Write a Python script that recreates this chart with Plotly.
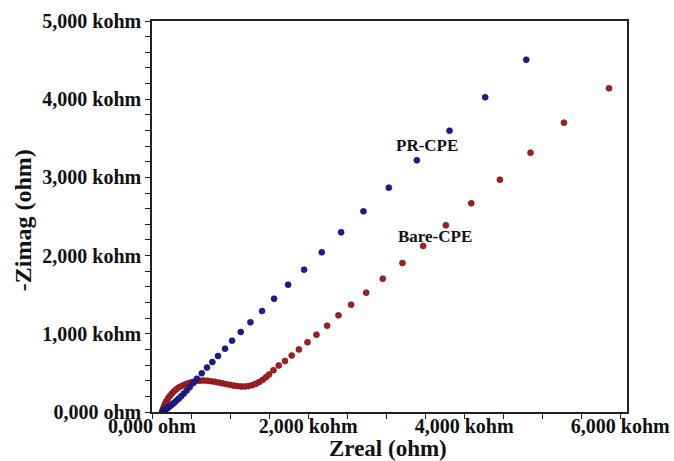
import plotly.graph_objects as go

# PR-CPE (blue) Nyquist data, ohm
pr_zreal = [130, 138, 147, 157, 168, 180, 194, 209, 226, 245, 266, 289, 315, 343, 374, 408,
            445, 485, 528, 575, 637, 705, 773, 846, 936, 1026, 1137, 1261, 1410, 1564, 1744,
            1949, 2175, 2423, 2709, 3034, 3393, 3812, 4269, 4795]
pr_zimag = [0, 7, 14, 21, 29, 38, 48, 59, 72, 87, 104, 123, 146, 172, 202, 236,
            275, 320, 370, 425, 495, 568, 639, 716, 810, 912, 1023, 1147, 1292, 1449, 1628,
            1820, 2042, 2298, 2566, 2869, 3219, 3597, 4024, 4505]

# Bare-CPE (red) Nyquist data, ohm
bare_zreal = [130, 140, 152, 167, 184, 205, 228, 252, 280, 312, 347, 386, 428, 472, 518, 565,
              612, 660, 708, 756, 804, 852, 900, 948, 996, 1044, 1092, 1140, 1188, 1236, 1283,
              1329, 1374, 1418, 1460, 1500, 1556, 1624, 1704, 1790, 1882, 1992, 2107, 2244,
              2389, 2551, 2744, 2957, 3209, 3474, 3765, 4090, 4457, 4850, 5278, 5855]
bare_zimag = [0, 35, 70, 105, 138, 172, 205, 234, 262, 290, 315, 336, 355, 372, 385, 395,
              401, 402, 399, 394, 386, 377, 367, 357, 347, 338, 331, 327, 327, 332, 343,
              360, 383, 411, 443, 478, 535, 595, 652, 722, 800, 891, 989, 1104,
              1236, 1372, 1526, 1705, 1905, 2123, 2387, 2669, 2971, 3316, 3700, 4139]

x_tickvals = list(range(0, 6001, 500))
x_ticktext = {0: "0,000 ohm", 2000: "2,000 kohm", 4000: "4,000 kohm", 6000: "6,000 kohm"}
y_tickvals = list(range(0, 5001, 200))
y_ticktext = {0: "0,000 ohm", 1000: "1,000 kohm", 2000: "2,000 kohm", 3000: "3,000 kohm",
              4000: "4,000 kohm", 5000: "5,000 kohm"}

BLUE = "#1c1c8f"
RED = "#a11e22"
FONT = "Liberation Serif"
TXT = "#111"

fig = go.Figure()
fig.add_trace(go.Scatter(x=bare_zreal, y=bare_zimag, mode="markers", name="Bare-CPE",
                         marker=dict(color=RED, size=6, line=dict(width=0.6, color="#6e1014"))))
fig.add_trace(go.Scatter(x=pr_zreal, y=pr_zimag, mode="markers", name="PR-CPE",
                         marker=dict(color=BLUE, size=6, line=dict(width=0.6, color="#101060"))))

fig.add_annotation(x=3522, y=3414, text="<b>PR-CPE</b>", showarrow=False,
                   font=dict(family=FONT, size=17, color=TXT))
fig.add_annotation(x=3624, y=2242, text="<b>Bare-CPE</b>", showarrow=False,
                   font=dict(family=FONT, size=17, color=TXT))

# axis titles
fig.add_annotation(xref="paper", yref="paper", x=0.497, y=-0.094, text="<b>Zreal (ohm)</b>",
                   showarrow=False, xanchor="center", yanchor="middle",
                   font=dict(family=FONT, size=23, color=TXT))
fig.add_annotation(xref="paper", yref="paper", x=-0.27, y=0.49, text="<b>-Zimag (ohm)</b>",
                   showarrow=False, xanchor="center", yanchor="middle", textangle=-90,
                   font=dict(family=FONT, size=24, color=TXT))

axis_common = dict(showgrid=False, zeroline=False, showline=True, linecolor="#222",
                   linewidth=1.5, mirror=True, ticks="outside", ticklen=5, tickwidth=1.2,
                   tickcolor="#222", automargin=False,
                   tickfont=dict(family=FONT, size=20, color=TXT))

fig.update_xaxes(range=[0, 6086], tickmode="array", tickvals=x_tickvals,
                 ticktext=[f"<b>{x_ticktext[v]}</b>" if v in x_ticktext else "" for v in x_tickvals],
                 ticklabelstandoff=-10,
                 **axis_common)
fig.update_yaxes(range=[0, 5000], tickmode="array", tickvals=y_tickvals,
                 ticktext=[f"<b>{y_ticktext[v]}</b>" if v in y_ticktext else "" for v in y_tickvals],
                 **axis_common)

fig.update_layout(width=674, height=461, showlegend=False,
                  margin=dict(l=152, r=47, t=21, b=49),
                  paper_bgcolor="white", plot_bgcolor="white")

fig.write_html("out.html", config={"displayModeBar": False},
               post_script="document.body.style.margin='0';document.body.style.overflow='hidden';")
